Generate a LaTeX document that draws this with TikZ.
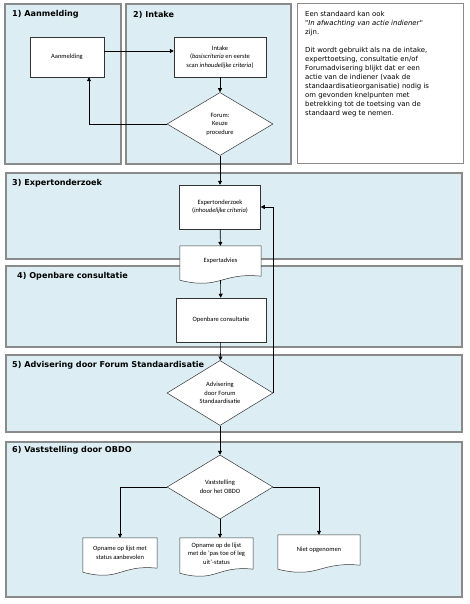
\documentclass[tikz,border=0pt]{standalone}
\usepackage{fontspec}
\setmainfont{Carlito}
\newfontfamily\verdana{DejaVu Sans}
\usetikzlibrary{shapes.geometric, arrows.meta, calc}

\definecolor{lanefill}{HTML}{DCEEF4}
\definecolor{laneedge}{HTML}{8A8A8A}
\pgfdeclarelayer{back}
\pgfdeclarelayer{mid}
\pgfsetlayers{back,mid,main}

\begin{document}
\begin{tikzpicture}[x=1pt, y=-1pt,
  lane/.style={draw=laneedge, fill=lanefill, line width=1.2pt},
  ttl/.style={anchor=west, inner sep=0, font=\verdana\bfseries\fontsize{8.1}{9}\selectfont},
  proc/.style={draw=black!80, fill=white, line width=0.5pt, inner sep=1pt, align=center, font=\fontsize{6.5}{8.5}\selectfont},
  dec/.style={proc, diamond, aspect=1.65, inner sep=0},
  doc/.style={inner sep=1pt, align=center, font=\fontsize{6.5}{8.5}\selectfont},
  arr/.style={-{Triangle[length=4pt,width=4pt]}, line width=0.6pt}]
\useasboundingbox (0,0) rectangle (469,604);

% swimlanes
\begin{pgfonlayer}{back}
\draw[lane] (5,4) rectangle (121,164);
\draw[lane] (126,4) rectangle (291,164);
\draw[lane] (6,173) rectangle (462,259);
\draw[lane] (6,266) rectangle (462,347);
\draw[lane] (6,355) rectangle (462,432);
\draw[lane] (6,442) rectangle (462,597);
\draw[draw=laneedge, fill=white, line width=1pt] (297,4) rectangle (463,163);
\end{pgfonlayer}

\node[ttl] (t1) at (12,14) {1) Aanmelding};
\node[ttl] (t2) at (133,15) {2) Intake};
\node[ttl] (t3) at (12,183) {3) Expertonderzoek};
\node[ttl] (t4) at (17,276) {4) Openbare consultatie};
\node[ttl] (t5) at (12,365) {5) Advisering door Forum Standaardisatie};
\node[ttl] (t6) at (12,450) {6) Vaststelling door OBDO};

\node[anchor=north west, align=left, inner sep=0, font=\verdana\fontsize{6.9}{9}\selectfont] (note) at (305,11)
  {Een standaard kan ook\\ "\textit{In afwachting van actie indiener}"\\ zijn.\\[9pt]
   Dit wordt gebruikt als na de intake,\\ experttoetsing, consultatie en/of\\ Forumadvisering blijkt dat er een\\
   actie van de indiener (vaak de\\ standaardisatieorganisatie) nodig is\\ om gevonden knelpunten met\\
   betrekking tot de toetsing van de\\ standaard weg te nemen.};

% steps
\node[proc, minimum width=74, minimum height=40] (ann) at (67,57) {Aanmelding};
\node[proc, minimum width=92, minimum height=40] (intake) at (220,57) {Intake\\(\textit{basiscriteria} en eerste\\scan \textit{inhoudelijke criteria})};
\node[dec, minimum width=106, minimum height=63] (forum) at (220,124) {Forum:\\Keuze\\procedure};
\node[proc, minimum width=81, minimum height=44] (eo) at (220,207) {Expertonderzoek\\(\textit{inhoudelijke criteria})};
\node[doc, minimum width=81, minimum height=30] (ea) at (220.5,261) {Expertadvies};
\node[proc, minimum width=90, minimum height=44] (oc) at (221,320) {Openbare consultatie};
\node[dec, minimum width=106, minimum height=65] (adv) at (220,393) {Advisering\\door Forum\\Standaardisatie};
\node[dec, minimum width=106, minimum height=64] (vs) at (220,487) {Vaststelling\\door het OBDO};
\node[doc, minimum width=74, minimum height=30] (d1) at (120,553) {Opname op lijst met\\status aanbevolen};
\node[doc, minimum width=73, minimum height=31] (d2) at (216.5,553.5) {Opname op de lijst\\met de 'pas toe of leg\\uit'-status};
\node[doc, minimum width=82, minimum height=30] (d3) at (319,550) {Niet opgenomen};

% document outlines
\begin{pgfonlayer}{mid}
\foreach \n/\w in {ea/81, d1/74, d2/73, d3/82}
  \draw[draw=black!80, fill=white, line width=0.5pt] (\n.north west) -- (\n.north east) -- (\n.south east)
    .. controls +(-\w/2,-4) and +(\w/2,10) .. ($(\n.south west)+(0,4)$) -- cycle;
\end{pgfonlayer}

% connectors
\draw[arr] ([yshift=6pt]ann.east) -- ([yshift=6pt]intake.west);
\draw[arr] (intake) -- (forum);
\draw[arr] (forum.west) -| ([xshift=22pt]ann.south);
\draw[arr] (forum) -- (eo);
\draw[arr] (eo) -- (ea);
\draw[arr] ([yshift=-4pt]ea.south) -- (oc);
\draw[arr] (oc) -- (adv);
\draw[arr] (adv.east) |- (eo.east);
\draw[arr] (adv) -- (vs);
\draw[arr] (vs.west) -| (d1.north);
\draw[arr] (vs.south) -- (vs.south |- d2.north);
\draw[arr] (vs.east) -| (d3.north);
\end{tikzpicture}
\end{document}
